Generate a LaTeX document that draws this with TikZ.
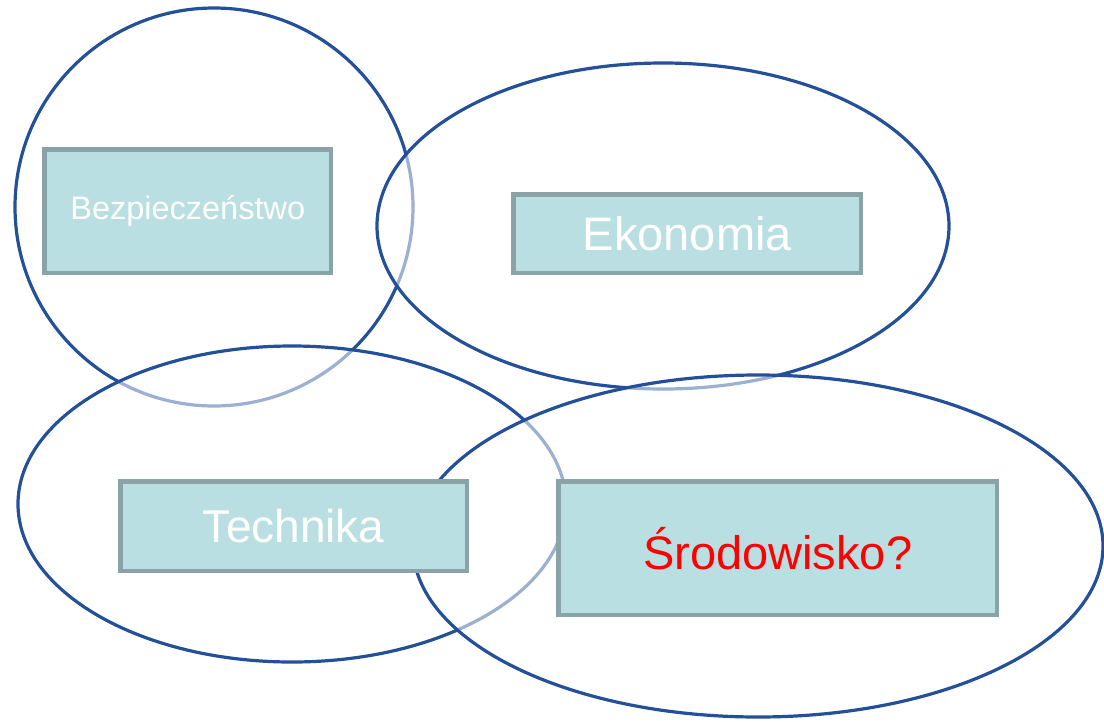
\documentclass[tikz,border=0pt]{standalone}
\usepackage{fontspec}
\setmainfont{Liberation Sans}
\definecolor{ringblue}{HTML}{24509A}
\definecolor{boxfill}{HTML}{BADFE2}
\definecolor{boxline}{HTML}{8AA3A6}
\begin{document}
\begin{tikzpicture}[x=1pt,y=-1pt,
  ring/.style={draw=ringblue,line width=3.2pt,fill=white,fill opacity=0.55},
  topic/.style={draw=boxline,line width=4.5pt,fill=boxfill,text=white,inner sep=0pt,anchor=north west}]
\useasboundingbox (0,0) rectangle (1104,721);
\path[ring] (214,207) ellipse [x radius=199,y radius=199];
\path[ring] (663,226) ellipse [x radius=286,y radius=163];
\path[ring] (292,504) ellipse [x radius=274,y radius=158];
\path[ring] (758,546) ellipse [x radius=345,y radius=171];
\node[topic,minimum width=286.5pt,minimum height=123.5pt,font=\fontsize{32.5}{38}\selectfont] (bez) at (42.25,147.25) {Bezpieczeństwo};
\node[topic,minimum width=347.5pt,minimum height=78.5pt,font=\fontsize{47}{54}\selectfont] (eko) at (511.25,192.25) {Ekonomia};
\node[topic,minimum width=346.5pt,minimum height=89.5pt,font=\fontsize{46}{53}\selectfont] (tech) at (118.25,479.25) {Technika};
\node[topic,minimum width=438.5pt,minimum height=133.5pt,font=\fontsize{47}{54}\selectfont,text=red] (sro) at (556.25,479.25) {Środowisko?};
\end{tikzpicture}
\end{document}
